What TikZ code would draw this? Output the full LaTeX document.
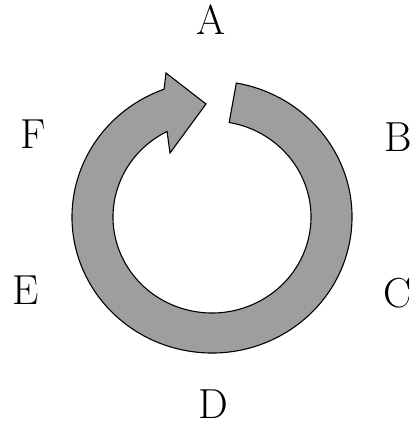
\documentclass[tikz,border=0pt]{standalone}
\usetikzlibrary{calc}
\tikzset{
  ringshape/.style={fill=black!38, draw=black, line width=1.1pt, line join=miter},
  letter/.style={inner sep=0pt, font=\fontsize{42}{50}\selectfont}
}
\begin{document}
\begin{tikzpicture}[x=1pt,y=1pt]
\useasboundingbox (0,0) rectangle (413,430);
\coordinate (c) at (212,213);
\coordinate (o1) at ($(c)+(80:140 and 136)$);
\coordinate (ht) at ($(c)+(-46,144)$);
\coordinate (tip) at ($(c)+(-6,113)$);
\coordinate (hb) at ($(c)+(-42,64)$);
\coordinate (i2) at ($(c)+(117:99 and 96)$);
\path[ringshape] (o1) arc[start angle=80, end angle=-250, x radius=140, y radius=136]
  -- (ht) -- (tip) -- (hb) -- (i2)
  arc[start angle=117, end angle=440, x radius=99, y radius=96] -- cycle;
\node[letter] (A) at (211,410) {A};
\node[letter] (B) at (398,293) {B};
\node[letter] (C) at (398,137) {C};
\node[letter] (D) at (213,26) {D};
\node[letter] (E) at (26,140) {E};
\node[letter] (F) at (33,296) {F};
\end{tikzpicture}
\end{document}
